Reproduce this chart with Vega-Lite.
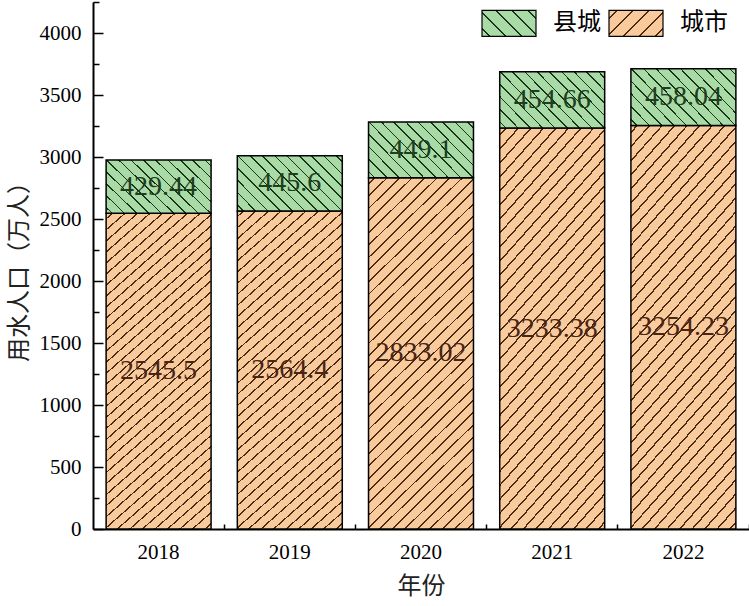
{
  "$schema": "https://vega.github.io/schema/vega-lite/v6.json",
  "width": 656,
  "height": 527,
  "autosize": {"type": "none"},
  "padding": {"left": 93, "top": 2, "right": 0, "bottom": 77},
  "background": "white",
  "data": {
    "values": [
      {"year": "2018", "type": "城市", "value": 2545.5},
      {"year": "2018", "type": "县城", "value": 429.44},
      {"year": "2019", "type": "城市", "value": 2564.4},
      {"year": "2019", "type": "县城", "value": 445.6},
      {"year": "2020", "type": "城市", "value": 2833.02},
      {"year": "2020", "type": "县城", "value": 449.1},
      {"year": "2021", "type": "城市", "value": 3233.38},
      {"year": "2021", "type": "县城", "value": 454.66},
      {"year": "2022", "type": "城市", "value": 3254.23},
      {"year": "2022", "type": "县城", "value": 458.04}
    ]
  },
  "encoding": {
    "x": {
      "field": "year",
      "type": "ordinal",
      "scale": {"paddingInner": 0.2, "paddingOuter": 0.1},
      "axis": {
        "title": "年份",
        "labelAngle": 0,
        "bandPosition": 1.125,
        "tickSize": -5,
        "labelPadding": 17,
        "titlePadding": 12
      }
    },
    "y": {
      "field": "value",
      "type": "quantitative",
      "stack": "zero",
      "scale": {"domain": [0, 4250], "nice": false},
      "axis": {
        "title": "用水人口（万人）",
        "values": [0, 250, 500, 750, 1000, 1250, 1500, 1750, 2000, 2250, 2500, 2750, 3000, 3250, 3500, 3750, 4000, 4250],
        "format": "d",
        "labelExpr": "datum.value % 500 === 0 ? datum.label : ''",
        "tickSize": {"condition": {"test": "datum.value % 500 === 0", "value": -10}, "value": -6},
        "labelPadding": 22,
        "titlePadding": 8,
        "grid": false
      }
    },
    "order": {"field": "type", "sort": "descending"}
  },
  "layer": [
    {
      "mark": {"type": "bar", "stroke": "black", "strokeWidth": 1.5},
      "encoding": {
        "detail": {"field": "type"},
        "fill": {
          "condition": {
            "test": "datum.type === '城市'",
            "value": {
              "gradient": "linear", "x1": 0, "y1": 0, "x2": 0.349, "y2": 1.191,
              "stops": [
                {"offset": 0.0115, "color": "#f9ca9c"}, {"offset": 0.0115, "color": "#4a2a10"}, {"offset": 0.0155, "color": "#4a2a10"}, {"offset": 0.0155, "color": "#f9ca9c"},
                {"offset": 0.0385, "color": "#f9ca9c"}, {"offset": 0.0385, "color": "#4a2a10"}, {"offset": 0.0425, "color": "#4a2a10"}, {"offset": 0.0425, "color": "#f9ca9c"},
                {"offset": 0.0656, "color": "#f9ca9c"}, {"offset": 0.0656, "color": "#4a2a10"}, {"offset": 0.0696, "color": "#4a2a10"}, {"offset": 0.0696, "color": "#f9ca9c"},
                {"offset": 0.0926, "color": "#f9ca9c"}, {"offset": 0.0926, "color": "#4a2a10"}, {"offset": 0.0966, "color": "#4a2a10"}, {"offset": 0.0966, "color": "#f9ca9c"},
                {"offset": 0.1196, "color": "#f9ca9c"}, {"offset": 0.1196, "color": "#4a2a10"}, {"offset": 0.1236, "color": "#4a2a10"}, {"offset": 0.1236, "color": "#f9ca9c"},
                {"offset": 0.1466, "color": "#f9ca9c"}, {"offset": 0.1466, "color": "#4a2a10"}, {"offset": 0.1506, "color": "#4a2a10"}, {"offset": 0.1506, "color": "#f9ca9c"},
                {"offset": 0.1737, "color": "#f9ca9c"}, {"offset": 0.1737, "color": "#4a2a10"}, {"offset": 0.1777, "color": "#4a2a10"}, {"offset": 0.1777, "color": "#f9ca9c"},
                {"offset": 0.2007, "color": "#f9ca9c"}, {"offset": 0.2007, "color": "#4a2a10"}, {"offset": 0.2047, "color": "#4a2a10"}, {"offset": 0.2047, "color": "#f9ca9c"},
                {"offset": 0.2277, "color": "#f9ca9c"}, {"offset": 0.2277, "color": "#4a2a10"}, {"offset": 0.2317, "color": "#4a2a10"}, {"offset": 0.2317, "color": "#f9ca9c"},
                {"offset": 0.2548, "color": "#f9ca9c"}, {"offset": 0.2548, "color": "#4a2a10"}, {"offset": 0.2588, "color": "#4a2a10"}, {"offset": 0.2588, "color": "#f9ca9c"},
                {"offset": 0.2818, "color": "#f9ca9c"}, {"offset": 0.2818, "color": "#4a2a10"}, {"offset": 0.2858, "color": "#4a2a10"}, {"offset": 0.2858, "color": "#f9ca9c"},
                {"offset": 0.3088, "color": "#f9ca9c"}, {"offset": 0.3088, "color": "#4a2a10"}, {"offset": 0.3128, "color": "#4a2a10"}, {"offset": 0.3128, "color": "#f9ca9c"},
                {"offset": 0.3358, "color": "#f9ca9c"}, {"offset": 0.3358, "color": "#4a2a10"}, {"offset": 0.3398, "color": "#4a2a10"}, {"offset": 0.3398, "color": "#f9ca9c"},
                {"offset": 0.3629, "color": "#f9ca9c"}, {"offset": 0.3629, "color": "#4a2a10"}, {"offset": 0.3669, "color": "#4a2a10"}, {"offset": 0.3669, "color": "#f9ca9c"},
                {"offset": 0.3899, "color": "#f9ca9c"}, {"offset": 0.3899, "color": "#4a2a10"}, {"offset": 0.3939, "color": "#4a2a10"}, {"offset": 0.3939, "color": "#f9ca9c"},
                {"offset": 0.4169, "color": "#f9ca9c"}, {"offset": 0.4169, "color": "#4a2a10"}, {"offset": 0.4209, "color": "#4a2a10"}, {"offset": 0.4209, "color": "#f9ca9c"},
                {"offset": 0.4439, "color": "#f9ca9c"}, {"offset": 0.4439, "color": "#4a2a10"}, {"offset": 0.4479, "color": "#4a2a10"}, {"offset": 0.4479, "color": "#f9ca9c"},
                {"offset": 0.4710, "color": "#f9ca9c"}, {"offset": 0.4710, "color": "#4a2a10"}, {"offset": 0.4750, "color": "#4a2a10"}, {"offset": 0.4750, "color": "#f9ca9c"},
                {"offset": 0.4980, "color": "#f9ca9c"}, {"offset": 0.4980, "color": "#4a2a10"}, {"offset": 0.5020, "color": "#4a2a10"}, {"offset": 0.5020, "color": "#f9ca9c"},
                {"offset": 0.5250, "color": "#f9ca9c"}, {"offset": 0.5250, "color": "#4a2a10"}, {"offset": 0.5290, "color": "#4a2a10"}, {"offset": 0.5290, "color": "#f9ca9c"},
                {"offset": 0.5521, "color": "#f9ca9c"}, {"offset": 0.5521, "color": "#4a2a10"}, {"offset": 0.5561, "color": "#4a2a10"}, {"offset": 0.5561, "color": "#f9ca9c"},
                {"offset": 0.5791, "color": "#f9ca9c"}, {"offset": 0.5791, "color": "#4a2a10"}, {"offset": 0.5831, "color": "#4a2a10"}, {"offset": 0.5831, "color": "#f9ca9c"},
                {"offset": 0.6061, "color": "#f9ca9c"}, {"offset": 0.6061, "color": "#4a2a10"}, {"offset": 0.6101, "color": "#4a2a10"}, {"offset": 0.6101, "color": "#f9ca9c"},
                {"offset": 0.6331, "color": "#f9ca9c"}, {"offset": 0.6331, "color": "#4a2a10"}, {"offset": 0.6371, "color": "#4a2a10"}, {"offset": 0.6371, "color": "#f9ca9c"},
                {"offset": 0.6602, "color": "#f9ca9c"}, {"offset": 0.6602, "color": "#4a2a10"}, {"offset": 0.6642, "color": "#4a2a10"}, {"offset": 0.6642, "color": "#f9ca9c"},
                {"offset": 0.6872, "color": "#f9ca9c"}, {"offset": 0.6872, "color": "#4a2a10"}, {"offset": 0.6912, "color": "#4a2a10"}, {"offset": 0.6912, "color": "#f9ca9c"},
                {"offset": 0.7142, "color": "#f9ca9c"}, {"offset": 0.7142, "color": "#4a2a10"}, {"offset": 0.7182, "color": "#4a2a10"}, {"offset": 0.7182, "color": "#f9ca9c"},
                {"offset": 0.7412, "color": "#f9ca9c"}, {"offset": 0.7412, "color": "#4a2a10"}, {"offset": 0.7452, "color": "#4a2a10"}, {"offset": 0.7452, "color": "#f9ca9c"},
                {"offset": 0.7683, "color": "#f9ca9c"}, {"offset": 0.7683, "color": "#4a2a10"}, {"offset": 0.7723, "color": "#4a2a10"}, {"offset": 0.7723, "color": "#f9ca9c"},
                {"offset": 0.7953, "color": "#f9ca9c"}, {"offset": 0.7953, "color": "#4a2a10"}, {"offset": 0.7993, "color": "#4a2a10"}, {"offset": 0.7993, "color": "#f9ca9c"},
                {"offset": 0.8223, "color": "#f9ca9c"}, {"offset": 0.8223, "color": "#4a2a10"}, {"offset": 0.8263, "color": "#4a2a10"}, {"offset": 0.8263, "color": "#f9ca9c"},
                {"offset": 0.8494, "color": "#f9ca9c"}, {"offset": 0.8494, "color": "#4a2a10"}, {"offset": 0.8534, "color": "#4a2a10"}, {"offset": 0.8534, "color": "#f9ca9c"},
                {"offset": 0.8764, "color": "#f9ca9c"}, {"offset": 0.8764, "color": "#4a2a10"}, {"offset": 0.8804, "color": "#4a2a10"}, {"offset": 0.8804, "color": "#f9ca9c"},
                {"offset": 0.9034, "color": "#f9ca9c"}, {"offset": 0.9034, "color": "#4a2a10"}, {"offset": 0.9074, "color": "#4a2a10"}, {"offset": 0.9074, "color": "#f9ca9c"},
                {"offset": 0.9304, "color": "#f9ca9c"}, {"offset": 0.9304, "color": "#4a2a10"}, {"offset": 0.9344, "color": "#4a2a10"}, {"offset": 0.9344, "color": "#f9ca9c"},
                {"offset": 0.9575, "color": "#f9ca9c"}, {"offset": 0.9575, "color": "#4a2a10"}, {"offset": 0.9615, "color": "#4a2a10"}, {"offset": 0.9615, "color": "#f9ca9c"},
                {"offset": 0.9845, "color": "#f9ca9c"}, {"offset": 0.9845, "color": "#4a2a10"}, {"offset": 0.9885, "color": "#4a2a10"}, {"offset": 0.9885, "color": "#f9ca9c"}
              ]
            }
          },
          "value": {
            "gradient": "linear", "x1": 0, "y1": 1, "x2": 1.196, "y2": 0.374,
            "stops": [
              {"offset": 0.0335, "color": "#a8dba5"}, {"offset": 0.0335, "color": "#1a331a"}, {"offset": 0.0435, "color": "#1a331a"}, {"offset": 0.0435, "color": "#a8dba5"},
              {"offset": 0.1104, "color": "#a8dba5"}, {"offset": 0.1104, "color": "#1a331a"}, {"offset": 0.1204, "color": "#1a331a"}, {"offset": 0.1204, "color": "#a8dba5"},
              {"offset": 0.1873, "color": "#a8dba5"}, {"offset": 0.1873, "color": "#1a331a"}, {"offset": 0.1973, "color": "#1a331a"}, {"offset": 0.1973, "color": "#a8dba5"},
              {"offset": 0.2642, "color": "#a8dba5"}, {"offset": 0.2642, "color": "#1a331a"}, {"offset": 0.2742, "color": "#1a331a"}, {"offset": 0.2742, "color": "#a8dba5"},
              {"offset": 0.3412, "color": "#a8dba5"}, {"offset": 0.3412, "color": "#1a331a"}, {"offset": 0.3512, "color": "#1a331a"}, {"offset": 0.3512, "color": "#a8dba5"},
              {"offset": 0.4181, "color": "#a8dba5"}, {"offset": 0.4181, "color": "#1a331a"}, {"offset": 0.4281, "color": "#1a331a"}, {"offset": 0.4281, "color": "#a8dba5"},
              {"offset": 0.4950, "color": "#a8dba5"}, {"offset": 0.4950, "color": "#1a331a"}, {"offset": 0.5050, "color": "#1a331a"}, {"offset": 0.5050, "color": "#a8dba5"},
              {"offset": 0.5719, "color": "#a8dba5"}, {"offset": 0.5719, "color": "#1a331a"}, {"offset": 0.5819, "color": "#1a331a"}, {"offset": 0.5819, "color": "#a8dba5"},
              {"offset": 0.6488, "color": "#a8dba5"}, {"offset": 0.6488, "color": "#1a331a"}, {"offset": 0.6588, "color": "#1a331a"}, {"offset": 0.6588, "color": "#a8dba5"},
              {"offset": 0.7258, "color": "#a8dba5"}, {"offset": 0.7258, "color": "#1a331a"}, {"offset": 0.7358, "color": "#1a331a"}, {"offset": 0.7358, "color": "#a8dba5"},
              {"offset": 0.8027, "color": "#a8dba5"}, {"offset": 0.8027, "color": "#1a331a"}, {"offset": 0.8127, "color": "#1a331a"}, {"offset": 0.8127, "color": "#a8dba5"},
              {"offset": 0.8796, "color": "#a8dba5"}, {"offset": 0.8796, "color": "#1a331a"}, {"offset": 0.8896, "color": "#1a331a"}, {"offset": 0.8896, "color": "#a8dba5"},
              {"offset": 0.9565, "color": "#a8dba5"}, {"offset": 0.9565, "color": "#1a331a"}, {"offset": 0.9665, "color": "#1a331a"}, {"offset": 0.9665, "color": "#a8dba5"}
            ]
          }
        }
      }
    },
    {
      "mark": {
        "type": "bar",
        "opacity": 0,
        "fill": {"expr": "datum.value === '县城' ? {gradient: 'linear', x1: 0, y1: 1, x2: 1.203, y2: 0.421, stops: [{offset: 0.09, color: '#a8dba5'}, {offset: 0.09, color: '#1a331a'}, {offset: 0.11, color: '#1a331a'}, {offset: 0.11, color: '#a8dba5'}, {offset: 0.29, color: '#a8dba5'}, {offset: 0.29, color: '#1a331a'}, {offset: 0.31, color: '#1a331a'}, {offset: 0.31, color: '#a8dba5'}, {offset: 0.49, color: '#a8dba5'}, {offset: 0.49, color: '#1a331a'}, {offset: 0.51, color: '#1a331a'}, {offset: 0.51, color: '#a8dba5'}, {offset: 0.69, color: '#a8dba5'}, {offset: 0.69, color: '#1a331a'}, {offset: 0.71, color: '#1a331a'}, {offset: 0.71, color: '#a8dba5'}, {offset: 0.89, color: '#a8dba5'}, {offset: 0.89, color: '#1a331a'}, {offset: 0.91, color: '#1a331a'}, {offset: 0.91, color: '#a8dba5'}]} : {gradient: 'linear', x1: 0, y1: 0, x2: 1.203, y2: 0.579, stops: [{offset: 0.09, color: '#f9ca9c'}, {offset: 0.09, color: '#4a2a10'}, {offset: 0.11, color: '#4a2a10'}, {offset: 0.11, color: '#f9ca9c'}, {offset: 0.29, color: '#f9ca9c'}, {offset: 0.29, color: '#4a2a10'}, {offset: 0.31, color: '#4a2a10'}, {offset: 0.31, color: '#f9ca9c'}, {offset: 0.49, color: '#f9ca9c'}, {offset: 0.49, color: '#4a2a10'}, {offset: 0.51, color: '#4a2a10'}, {offset: 0.51, color: '#f9ca9c'}, {offset: 0.69, color: '#f9ca9c'}, {offset: 0.69, color: '#4a2a10'}, {offset: 0.71, color: '#4a2a10'}, {offset: 0.71, color: '#f9ca9c'}, {offset: 0.89, color: '#f9ca9c'}, {offset: 0.89, color: '#4a2a10'}, {offset: 0.91, color: '#4a2a10'}, {offset: 0.91, color: '#f9ca9c'}]}"}
      },
      "encoding": {
        "stroke": {
          "field": "type",
          "type": "nominal",
          "scale": {"domain": ["县城", "城市"], "range": ["black", "black"]},
          "legend": {
            "title": null,
            "orient": "none",
            "legendX": 388,
            "legendY": -7,
            "direction": "horizontal",
            "padding": 0,
            "symbolType": "M-1,-0.48H1V0.48H-1Z",
            "symbolSize": 2916,
            "symbolStrokeWidth": 1.2,
            "symbolOpacity": 1,
            "labelFont": "Noto Sans CJK SC",
            "labelFontSize": 24,
            "labelColor": "black",
            "labelOffset": 16,
            "columnPadding": 5
          }
        }
      }
    },
    {
      "mark": {"type": "text", "font": "Liberation Serif", "fontSize": 28, "baseline": "middle", "align": "center"},
      "encoding": {
        "y": {"field": "value", "type": "quantitative", "stack": "zero", "bandPosition": 0.5},
        "detail": {"field": "type"},
        "text": {"field": "value", "type": "nominal"},
        "color": {
          "condition": {"test": "datum.type === '县城'", "value": "#1f3d1f"},
          "value": "#4a2515"
        }
      }
    }
  ],
  "config": {
    "view": {"stroke": null},
    "axis": {
      "domainColor": "black",
      "domainWidth": 2,
      "tickColor": "black",
      "tickWidth": 1.5,
      "labelFont": "Liberation Serif",
      "labelFontSize": 21,
      "labelColor": "black",
      "titleFont": "Noto Sans CJK SC",
      "titleFontSize": 24,
      "titleFontWeight": "normal",
      "titleColor": "#222222"
    }
  }
}
